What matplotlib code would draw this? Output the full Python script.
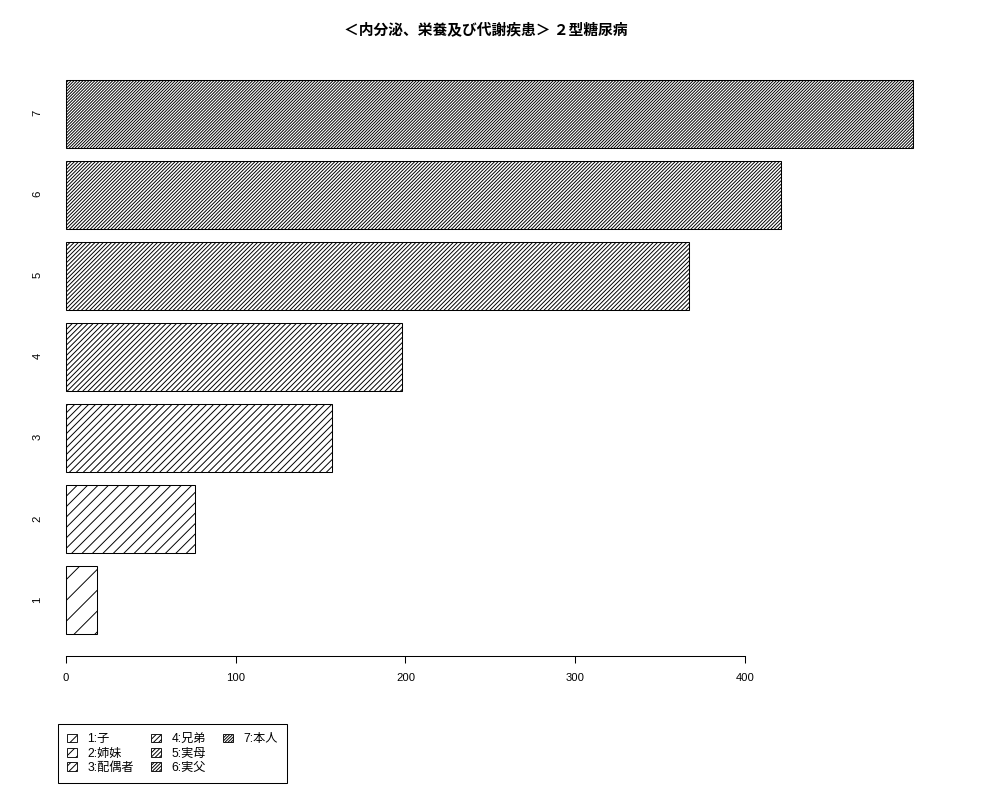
import matplotlib
matplotlib.use("Agg")
import matplotlib.pyplot as plt
from matplotlib.patches import Patch

# data
categories = ["1", "2", "3", "4", "5", "6", "7"]
values = [18, 76, 157, 198, 367, 421, 499]
legend_labels = ["1:子", "2:姉妹", "3:配偶者", "4:兄弟", "5:実母", "6:実父", "7:本人"]
title = "＜内分泌、栄養及び代謝疾患＞ ２型糖尿病"
xticks = [0, 100, 200, 300, 400]

plt.rcParams['font.family'] = ['Liberation Sans', 'Noto Sans CJK JP', 'DejaVu Sans']
plt.rcParams['hatch.linewidth'] = 0.55

fig = plt.figure(figsize=(8, 6.4), dpi=125)
# plot region like R: 4% padding around the bar extent
ax = fig.add_axes([0.0321, 0.17975, 0.9148, 0.748])

n = len(values)
ypos = [1.2 * (i + 1) - 0.5 for i in range(n)]
# hatch density grows with the category, like R's density=
hatches = ['//' * (i + 1) for i in range(n)]

bars = ax.barh(ypos, values, height=1.0, left=0, color='white',
               edgecolor='black', linewidth=0.6)
for b, h in zip(bars, hatches):
    b.set_hatch(h)

xmax = max(values)
ax.set_xlim(-0.04 * xmax, 1.04 * xmax)
ax.set_ylim(0.2 - 0.04 * 8.2, 8.4 + 0.04 * 8.2)

for s in ['top', 'right', 'left']:
    ax.spines[s].set_visible(False)
ax.spines['bottom'].set_bounds(0, 400)
ax.spines['bottom'].set_linewidth(0.6)

ax.set_xticks(xticks)
ax.set_xticklabels([str(t) for t in xticks], fontsize=6.5)
ax.tick_params(axis='x', length=4, width=0.6, pad=5.5)

ax.set_yticks(ypos)
ax.set_yticklabels(categories, fontsize=6.5, rotation=90)
ax.tick_params(axis='y', length=0, pad=-6)

fig.text(0.4855, 1 - 29 / 800, title, ha='center', va='center',
         fontsize=8.5, fontweight='bold', family=['Noto Sans CJK JP', 'DejaVu Sans'])

handles = []
for h in hatches:
    p = Patch(facecolor='white', edgecolor='black', linewidth=0.5)
    p.set_hatch(h)
    handles.append(p)
labels = list(legend_labels)
# pad so that R's column layout (3, 3, 1) is kept
for _ in range(2):
    handles.append(Patch(facecolor='none', edgecolor='none'))
    labels.append("")

leg = fig.legend(handles, labels, ncol=3, loc='upper left',
                 bbox_to_anchor=(0.058, 1 - 724 / 800), borderaxespad=0,
                 fontsize=7, fancybox=False, edgecolor='black', framealpha=1,
                 handlelength=0.8, handleheight=0.7, handletextpad=0.85,
                 columnspacing=1.45, labelspacing=0.2, borderpad=0.75)
leg.get_frame().set_linewidth(0.6)

fig.savefig("out.png", dpi=125)
